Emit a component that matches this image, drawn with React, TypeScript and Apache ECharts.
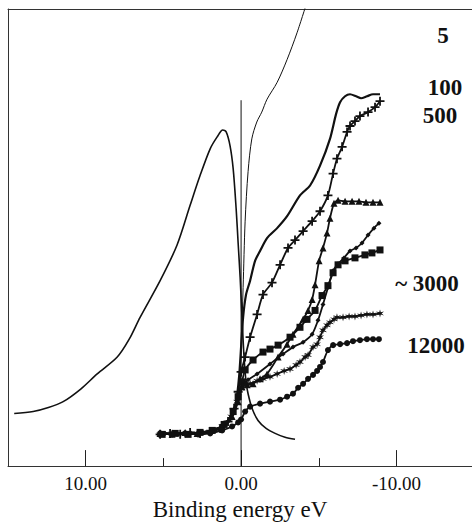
import React, { useEffect, useRef } from "react";
import * as echarts from "echarts";

// Binding energy (eV) vs. intensity (arb. units)
const peakCurve = [[14.6,53],[13.38,55],[12.4,59],[11.45,65],[10.3,78],[9.26,93],[7.97,110],[7.2,128],[6.5,150],[5.21,187],[4.12,223],[3.28,263],[2.64,293],[1.99,320],[1.54,332],[1.18,339],[0.96,337],[0.71,323],[0.51,300],[0.32,260],[0.19,225],[0.06,190],[-0.06,150],[-0.19,110],[-0.32,85],[-0.45,73],[-0.71,58],[-1.09,46],[-1.61,38],[-2.19,33],[-2.83,29],[-3.47,27]];
const curve5 = [[1.67,34],[0.71,45],[0.19,70],[0,120],[-0.13,180],[-0.26,247],[-0.45,297],[-0.69,330],[-1.01,347],[-1.33,357],[-1.67,370],[-2.32,387],[-2.96,410],[-3.6,437],[-4.24,468]];
const curve100 = [[5.21,32],[4.24,33],[3.28,33],[2.32,34],[1.67,36],[1.03,42],[0.58,52],[0.32,65],[0.13,90],[0,120],[-0.13,150],[-0.32,173],[-0.58,187],[-0.9,207],[-1.22,217],[-1.67,230],[-2.32,240],[-2.96,252],[-3.79,273],[-4.44,283],[-5.08,303],[-5.72,330],[-6.11,355],[-6.37,367],[-6.69,373],[-7.01,375],[-7.4,373],[-7.72,371],[-8.1,373],[-8.49,375],[-8.94,375]];
const curve500 = [[5.21,32],[4.57,33],[3.92,32],[3.28,34],[2.64,33],[1.99,35],[1.35,38],[0.84,45],[0.45,58],[0.19,75],[0,95],[-0.26,110],[-0.58,130],[-1.03,153],[-1.41,173],[-1.99,185],[-2.51,203],[-3.02,220],[-3.47,228],[-3.99,237],[-4.57,247],[-5.08,257],[-5.59,273],[-5.92,295],[-6.17,310],[-6.5,322],[-6.82,337],[-7.01,343],[-7.33,348],[-7.65,353],[-8.17,357],[-8.62,362],[-8.94,368]];
const curveTri = [[5.21,33],[4.44,32],[3.6,34],[2.83,33],[1.99,36],[1.22,40],[0.58,50],[0.19,65],[-0.06,80],[-0.39,82],[-0.77,83],[-1.22,88],[-1.67,93],[-2.38,110],[-2.96,123],[-3.34,133],[-3.99,148],[-4.31,157],[-4.57,168],[-4.76,183],[-5.02,207],[-5.27,220],[-5.53,235],[-5.72,250],[-5.98,265],[-6.24,268],[-6.69,267],[-7.14,267],[-7.59,267],[-8.04,266],[-8.49,266],[-8.94,266]];
const curveSq = [[5.08,32],[4.24,33],[3.41,32],[2.64,34],[1.86,36],[1.09,42],[0.51,55],[0.19,70],[-0.06,85],[-0.26,97],[-0.77,107],[-1.41,115],[-1.86,118],[-2.38,122],[-3.15,130],[-3.79,140],[-4.24,148],[-4.76,157],[-5.21,172],[-5.59,182],[-5.92,195],[-6.24,203],[-6.69,207],[-7.33,210],[-7.97,213],[-8.42,215],[-8.94,218]];
const curveDia = [[4.89,33],[4.05,32],[3.28,33],[2.44,34],[1.67,37],[0.96,44],[0.45,57],[0.13,72],[-0.13,82],[-0.45,87],[-1.03,93],[-1.86,103],[-2.7,113],[-3.34,120],[-3.99,125],[-4.57,133],[-4.95,147],[-5.27,163],[-5.59,180],[-5.92,197],[-6.24,204],[-6.62,210],[-7.01,217],[-7.4,220],[-7.78,225],[-8.17,233],[-8.55,240],[-8.87,245]];
const curveStar = [[5.21,32],[4.44,33],[3.6,32],[2.77,33],[1.99,35],[1.22,40],[0.64,50],[0.26,65],[0,78],[-0.26,82],[-0.58,83],[-1.03,86],[-1.41,88],[-1.86,90],[-2.32,93],[-2.77,96],[-3.15,98],[-3.54,102],[-3.79,105],[-4.12,110],[-4.31,112],[-4.63,120],[-4.89,123],[-5.08,130],[-5.27,137],[-5.53,142],[-5.72,145],[-5.98,148],[-6.17,150],[-6.56,150],[-6.95,151],[-7.33,151],[-7.72,152],[-8.1,153],[-8.49,153],[-8.94,154]];
const curveCirc = [[5.21,33],[4.44,32],[3.6,33],[2.77,32],[1.99,33],[1.22,36],[0.58,40],[0.19,44],[0,47],[-0.26,55],[-0.58,60],[-1.22,63],[-1.86,65],[-2.51,67],[-2.96,70],[-3.34,73],[-3.67,79],[-3.99,83],[-4.31,88],[-4.63,92],[-4.89,96],[-5.08,100],[-5.27,105],[-5.59,117],[-5.92,122],[-6.37,123],[-6.82,124],[-7.2,126],[-7.65,127],[-8.1,128],[-8.49,128],[-8.87,128]];
const fermiLine = [[0,0],[0,369]];

const majorTicks = [10, 0, -10];
const minorTicks = [5, -5];
const doseLabels = [
  { text: "5", x: 443, y: 35 },
  { text: "100", x: 445, y: 87 },
  { text: "500", x: 440, y: 115 },
  { text: "~ 3000", x: 427, y: 283 },
  { text: "12000", x: 436, y: 345 },
];

const PLUS = "path://M4 0h2v4h4v2h-4v4h-2v-4h-4v-2h4z";
const STAR = "path://M5 0L6 3.5L10 2.5L7 5L10 7.5L6 6.5L5 10L4 6.5L0 7.5L3 5L0 2.5L4 3.5Z";

export default function App() {
  const ref = useRef<HTMLDivElement>(null);
  useEffect(() => {
    if (!ref.current) return;
    const chart = echarts.init(ref.current, undefined, { renderer: "svg" });
    const serif = "Liberation Serif";
    const black = "#111";
    const line = (data: number[][], width: number, symbol: string | null, size = 6, smooth: number = 0.25) => ({
      type: "line",
      data,
      smooth,
      showSymbol: !!symbol,
      symbol: symbol || "none",
      symbolSize: size,
      lineStyle: { color: black, width },
      itemStyle: { color: black, borderWidth: 0 },
      silent: true,
      z: 3,
    });
    const xBase = { type: "value", min: -14.86, max: 15, inverse: true, splitLine: { show: false } };
    chart.setOption({
      animation: false,
      textStyle: { fontFamily: serif },
      grid: { left: 8, top: 9, right: 0, bottom: 56 },
      xAxis: [
        {
          ...xBase,
          position: "bottom",
          axisLine: { show: true, onZero: false, lineStyle: { color: "#333", width: 1 } },
          axisTick: { show: true, inside: true, length: 16, customValues: majorTicks, lineStyle: { color: "#222", width: 1 } },
          axisLabel: {
            show: true,
            customValues: majorTicks,
            formatter: (v: number) => v.toFixed(2),
            fontFamily: serif,
            fontSize: 19,
            color: "#111",
            margin: 8,
          },
          name: "Binding energy eV",
          nameLocation: "middle",
          nameGap: 27,
          nameTextStyle: { fontFamily: serif, fontSize: 23, color: "#111" },
        },
        {
          ...xBase,
          position: "bottom",
          axisLine: { show: false },
          axisTick: { show: true, inside: true, length: 8, customValues: minorTicks, lineStyle: { color: "#222", width: 1 } },
          axisLabel: { show: false },
        },
        {
          ...xBase,
          position: "top",
          axisLine: { show: true, onZero: false, lineStyle: { color: "#333", width: 1 } },
          axisTick: { show: false },
          axisLabel: { show: false },
        },
      ],
      yAxis: {
        type: "value",
        min: 0,
        max: 461,
        axisLine: { show: true, onZero: false, lineStyle: { color: "#333", width: 1 } },
        axisTick: { show: false },
        axisLabel: { show: false },
        splitLine: { show: false },
      },
      series: [
        { ...line(fermiLine, 1, null, 0, 0), smooth: false },
        line(peakCurve, 1.6, null, 0, 0.3),
        line(curve5, 1, null, 0, 0.3),
        line(curve100, 2.2, null),
        line(curve500, 1.8, PLUS, 9),
        line(curveTri, 1.8, "triangle", 7),
        line(curveSq, 1.8, "rect", 7),
        line(curveDia, 1.8, "diamond", 5),
        line(curveStar, 1.8, STAR, 8),
        line(curveCirc, 1.8, "circle", 6),
      ],
      graphic: doseLabels.map((l) => ({
        type: "text",
        x: l.x,
        y: l.y,
        style: {
          text: l.text,
          fill: "#111",
          fontFamily: serif,
          fontSize: 23,
          fontWeight: "bold",
          textAlign: "center",
          textVerticalAlign: "middle",
        },
      })),
    });
    return () => chart.dispose();
  }, []);
  return <div ref={ref} style={{ position: "absolute", left: 0, top: 0, width: 472, height: 526, background: "#fff" }} />;
}
